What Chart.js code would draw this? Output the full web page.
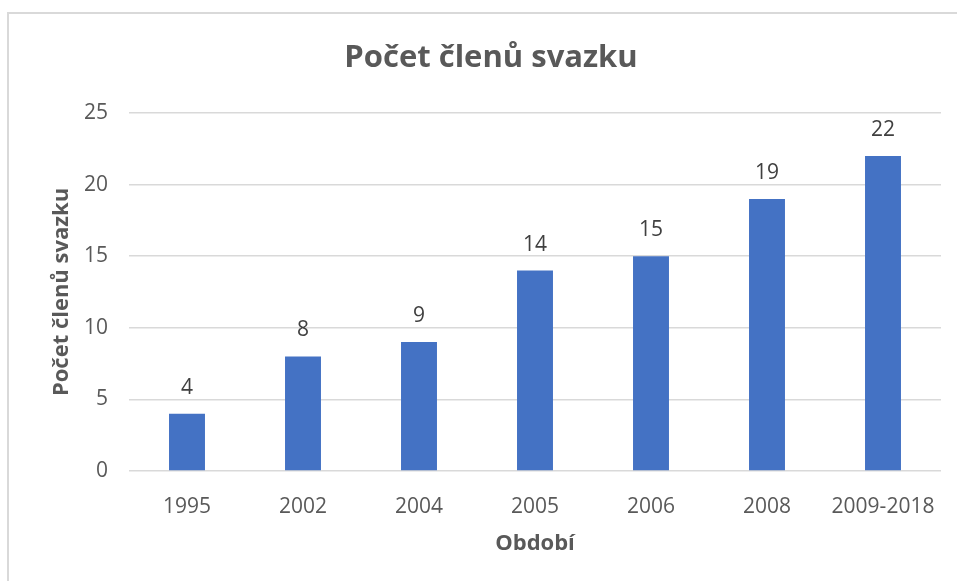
<!DOCTYPE html>
<html>
<head>
<meta charset="utf-8">
<script src="https://cdn.jsdelivr.net/npm/chart.js@4"></script>
<style>
    body { margin: 0; background: #ffffff; }
    #wrap { position: relative; width: 957px; height: 581px; overflow: hidden; }
    #frame { position: absolute; left: 7px; top: 12px; width: 960px; height: 580px;
             border-left: 2px solid #d9d9d9; border-top: 2px solid #d9d9d9; }
    canvas { position: absolute; left: 0; top: 0; }
</style>
</head>
<body>
<div id="wrap">
    <div id="frame"></div>
    <canvas id="memberChart" width="957" height="581"></canvas>
</div>
<script>
// 資料
const periods = ['1995', '2002', '2004', '2005', '2006', '2008', '2009-2018'];
const memberCounts = [4, 8, 9, 14, 15, 19, 22];
const yTicks = [0, 5, 10, 15, 20, 25];

const FONT = "'Open Sans', 'Noto Sans', sans-serif";

// 柱狀圖上方數值
const valueLabels = {
    id: 'valueLabels',
    afterDatasetsDraw(chart) {
        const ctx = chart.ctx;
        ctx.save();
        ctx.font = `21px ${FONT}`;
        ctx.fillStyle = '#404040';
        ctx.textAlign = 'center';
        ctx.textBaseline = 'middle';
        chart.getDatasetMeta(0).data.forEach((bar, i) => {
            ctx.fillText(memberCounts[i], bar.x, bar.y - 26);
        });
        ctx.restore();
    }
};

Chart.defaults.font.family = FONT;
Chart.defaults.color = '#595959';

new Chart(document.getElementById('memberChart'), {
    type: 'bar',
    data: {
        labels: periods,
        datasets: [{
            label: 'Počet členů svazku',
            data: memberCounts,
            backgroundColor: '#4472c4',
            borderWidth: 0,
            categoryPercentage: 1,
            barPercentage: 0.31
        }]
    },
    options: {
        responsive: false,
        animation: false,
        layout: { padding: { left: 41, right: 16, top: 0, bottom: 0 } },
        plugins: {
            legend: { display: false },
            tooltip: { enabled: false },
            title: {
                display: true,
                text: 'Počet členů svazku',
                color: '#595959',
                font: { size: 31, weight: 'bold' },
                padding: { top: 40, bottom: 35.8 }
            }
        },
        scales: {
            x: {
                grid: { display: false },
                border: { display: false },
                ticks: { color: '#595959', font: { size: 21 }, padding: 15, maxRotation: 0 },
                title: {
                    display: true,
                    text: 'Období',
                    color: '#595959',
                    font: { size: 22, weight: 'bold' },
                    padding: { top: 0, bottom: 24 }
                },
                afterFit: s => { s.height = 110; }
            },
            y: {
                min: 0,
                max: 25,
                afterBuildTicks: s => { s.ticks = yTicks.map(v => ({ value: v })); },
                grid: { color: '#d9d9d9', lineWidth: 1.5, drawTicks: false },
                border: { display: false },
                ticks: { color: '#595959', font: { size: 21 }, padding: 21 },
                title: {
                    display: true,
                    text: 'Počet členů svazku',
                    color: '#595959',
                    font: { size: 22, weight: 'bold' },
                    padding: { top: 8, bottom: 0 }
                },
                afterFit: s => { s.width = 88; }
            }
        }
    },
    plugins: [valueLabels]
});
</script>
</body>
</html>
